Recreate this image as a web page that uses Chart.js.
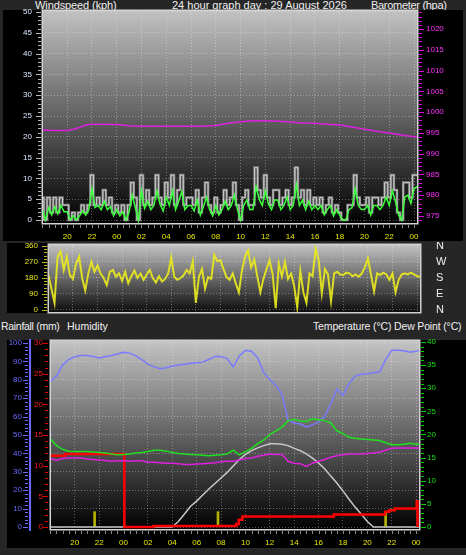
<!DOCTYPE html>
<html><head><meta charset="utf-8">
<script src="https://cdn.jsdelivr.net/npm/chart.js@4.4.1/dist/chart.umd.min.js"></script>
<style>
html,body{margin:0;padding:0;background:#262626;width:466px;height:555px;overflow:hidden;}
canvas{position:absolute;}
.t{position:absolute;color:#f0f0f0;font-family:"Liberation Sans",Arial,sans-serif;font-size:11px;line-height:11px;white-space:pre;}
</style></head><body>
<div class="t" style="left:35px;top:0px;letter-spacing:-0.1px">Windspeed (kph)</div>
<div class="t" style="left:172px;top:0px">24 hour graph day : 29 August 2026</div>
<div class="t" style="left:371px;top:0px;letter-spacing:-0.3px">Barometer (hpa)</div>
<div class="t" style="left:1px;top:320.5px;font-size:10.5px;letter-spacing:-0.3px">Rainfall (mm)</div>
<div class="t" style="left:67px;top:320.5px;font-size:10.5px">Humidity</div>
<div class="t" style="left:313px;top:320.5px;font-size:10.5px;letter-spacing:-0.15px">Temperature (°C) Dew Point (°C)</div>
<canvas id="c1" width="460" height="232" style="left:3px;top:9px;width:460px;height:232px"></canvas>
<canvas id="c2" width="459" height="74" style="left:7px;top:242px;width:459px;height:74px"></canvas>
<canvas id="c3" width="459" height="209" style="left:7px;top:339px;width:459px;height:209px"></canvas>
<script>
// ---------- axis ticks / labels ----------
const hourTicks = [20,22,24,26,28,30,32,34,36,38,40,42,44,46,48];
const hourLabels = ['20','22','00','02','04','06','08','10','12','14','16','18','20','22','00'];
const windTicks = [0,5,10,15,20,25,30,35,40,45,50];
const baroTicks = [975,980,985,990,995,1000,1005,1010,1015,1020];
const dirTicks = [0,90,180,270,360];
const compassLabels = ['N','E','S','W','N'];
const humTicks = [0,10,20,30,40,50,60,70,80,90,100];
const rainTicks = [0,5,10,15,20,25,30];
const tempTicks = [0,5,10,15,20,25,30,35,40];

// ---------- wind (15 minute samples from 18:00 previous day) ----------
const gust = [5.4,0,5.4,1.8, 5.4,1.8,5.4,3.6, 3.6,0,1.8,0, 1.8,3.6,1.8,3.6, 10.8,3.6,5.4,3.6, 7.2,3.6,5.4,1.8,
  3.6,1.8,3.6,0, 3.6,9,5.4,0, 10.8,3.6,7.2,3.6, 5.4,10.8,5.4,3.6, 9,5.4,10.8,3.6, 7.2,10.8,3.6,5.4,
  5.4,3.6,7.2,1.8, 5.4,9,3.6,1.8, 5.4,1.8,3.6,7.2, 3.6,5.4,9,3.6, 0,5.4,7.2,3.6, 3.6,12.6,7.2,5.4,
  10.8,5.4,3.6,7.2, 7.2,3.6,5.4,7.2, 3.6,5.4,12.6,5.4, 7.2,3.6,7.2,3.6, 5.4,3.6,5.4,1.8, 3.6,5.4,1.8,3.6,
  1.8,0,0,3.6, 3.6,10.8,5.4,3.6, 3.6,5.4,1.8,5.4, 5.4,3.6,5.4,9, 5.4,10.8,7.2,1.8, 0,9,9,5.4, 10.8,10.8];
const avgWind = [2.5,0,3.0,1.2, 3.2,1.5,3.5,2.0, 2.0,0,1.0,0, 1.0,2.2,1.2,2.5, 7.5,3.0,3.5,2.5, 4.5,2.5,3.2,1.0,
  2.5,1.0,2.0,0, 2.0,6.0,3.0,0, 7.0,2.8,4.5,2.5, 3.5,7.0,3.8,2.2, 5.5,3.5,7.0,2.5, 4.5,6.8,2.5,3.5,
  3.5,2.2,4.8,1.2, 3.2,5.5,2.5,1.0, 3.5,1.2,2.5,4.5, 2.5,3.5,6.0,2.5, 0,3.5,4.8,2.5, 2.5,8.0,5.0,3.5,
  7.0,3.8,2.5,4.8, 4.8,2.5,3.5,5.5, 2.5,3.5,8.5,3.5, 4.8,2.5,4.5,2.5, 3.5,2.5,3.5,1.2, 2.5,3.5,1.0,2.5,
  1.2,0,0,2.5, 3.0,7.5,3.5,2.5, 2.5,3.5,1.2,3.5, 3.5,2.5,3.5,5.5, 3.5,7.0,4.5,1.2, 0,5.5,6.0,4.0, 7.5,8.0];
const windDir = [200,120,40,300, 330,225,300,197, 175,260,300,180, 110,206,272,215, 250,205,180,140, 215,225,187,206,
  165,215,150,190, 222,180,205,170, 200,225,180,155, 190,160,175,206, 295,185,170,180, 195,225,206,275,
  40,187,230,120, 185,175,310,275, 280,230,185,170, 205,150,100,220, 300,335,240,285, 190,100,175,230,
  280,200,10,260, 190,270,175,205, 135,15,220,100, 40,206,190,345, 280,95,230,200, 50,206,215,200,
  197,210,206,190, 200,187,205,240, 290,200,105,206, 197,210,200,170, 205,100,170,200, 206,200,210,200, 190,187];
const windTimes = Array.from({length: gust.length}, (_, i) => 18 + i / 4);

// ---------- barometer ----------
const baroTimes = [18,19,20,20.5,21,21.5,22,23,24,25,26,27,28,29,30,31,32,33,34,35,36,37,38,39,40,41,42,43,44,45,46,47,48,48.25];
const baro = [995.7,995.6,995.6,995.9,996.3,996.9,997.1,997.1,997.0,996.7,996.6,996.6,996.6,996.6,996.6,996.6,996.8,997.3,997.7,997.9,997.9,997.8,997.6,997.4,997.3,997.1,996.9,996.4,995.9,995.4,995.0,994.5,994.1,994.0];

// ---------- temperature / dew point / humidity / solar (30 minute samples) ----------
const lowTimes = Array.from({length: 61}, (_, i) => 18 + i / 2).concat([48.25]);
const temp = [19.0,17.6,16.8,16.4,16.3,16.3,16.3,16.2,16.1,16.0,15.8,15.6,15.7,15.8,16.0,16.1,16.3,16.6,16.6,16.4,16.1,15.9,15.8,15.7,15.6,15.5,15.4,15.5,15.6,15.8,16.6,15.6,16.3,17.0,18.0,18.8,20.0,20.8,21.6,23.0,23.3,22.9,22.8,23.4,23.2,23.0,22.5,20.8,20.2,19.4,19.2,19.0,18.9,18.8,18.7,18.2,17.8,17.8,17.9,18.1,17.9,17.9];
const dew = [14.8,14.4,14.8,14.9,14.9,14.9,14.7,14.6,14.5,14.4,14.2,14.3,14.3,14.2,14.3,14.3,14.0,14.0,13.9,13.8,13.8,13.7,13.5,13.5,13.6,13.7,13.8,13.9,14.1,14.2,14.2,14.5,14.8,14.9,15.3,15.5,15.8,15.7,15.7,14.2,13.8,13.7,13.1,13.8,14.2,14.6,15.1,15.4,15.6,15.8,15.8,15.8,15.9,16.0,16.2,16.6,17.0,17.1,17.1,17.1,17.1,17.1];
const humidity = [79,82,88,91,92.5,93.2,93.2,92.7,91.8,92.5,93.2,94,95,94.5,93,91,88.5,87,86,86.5,87.5,88,88.5,89,89.3,89.6,91,92.7,92.7,91.5,87,93,96,95.5,92,84,80,77,72,58,56.5,56,54.4,55.5,57,60,67,75,71.5,78,82,83,83.3,83.8,84.2,91,96,96,95.8,95,95.5,96];
const solar = [0,0,0,0,0,0,0,0,0,0,0,0,0,0,0,0,0,0,0,0,
  0,1.2,2.8,4.5,5.6,6.9,8.2,9.4,10.6,11.8,13.2,14.6,15.7,16.5,17.1,17.6,18.0,18.0,17.9,17.6,17.0,16.5,15.8,14.9,13.8,12.6,11.0,9.5,7.8,6.0,4.3,2.8,1.2,0,
  0,0,0,0,0,0,0,0];

// ---------- rainfall ----------
const rainTimes = [18.0,19.2,24.07,26.45,33.25,33.45,33.75,41.25,45.45,45.8,46.25,48.05,48.12];
const rainTotal = [11.6,11.9,0,0.15,0.5,1.2,1.7,2.05,2.5,2.75,3.0,4.2,0];
const rateTimes = [21.63,31.75,45.5];
const rainRate = [2.5,2.5,2.5];

// ---------- helpers ----------
const xy = (t, v) => v.map((y, i) => ({x: t[i], y}));
const setTicks = arr => s => { s.ticks = arr.map(v => ({value: v})); };
const fix = size => s => {
  if (s.isHorizontal()) { s.height = size; s.paddingLeft = 0; s.paddingRight = 0; }
  else { s.width = size; s.paddingTop = 0; s.paddingBottom = 0; }
};
const FONT = {family: 'Liberation Sans', size: 8};
const GRID = 'rgba(255,255,255,0.33)';
const XMIN = 17.97, XMAX = 48.32;

const panel = {
  id: 'panel',
  beforeDraw(chart, args, o) {
    const ctx = chart.ctx, a = chart.chartArea;
    ctx.save();
    ctx.fillStyle = '#000';
    (o.black || []).forEach(r => ctx.fillRect(r[0], r[1], r[2], r[3]));
    const g = ctx.createLinearGradient(0, a.top, 0, a.bottom);
    g.addColorStop(0, o.top); g.addColorStop(1, o.bottom);
    ctx.fillStyle = g;
    ctx.fillRect(a.left, a.top, a.right - a.left, a.bottom - a.top);
    ctx.restore();
  },
  afterDraw(chart, args, o) {
    const ctx = chart.ctx, a = chart.chartArea;
    ctx.save();
    ctx.strokeStyle = o.border; ctx.lineWidth = 1.5;
    ctx.strokeRect(a.left + 0.25, a.top + 0.25, a.right - a.left - 0.5, a.bottom - a.top - 0.5);
    (o.minor || []).forEach(m => {
      const s = chart.scales[m.id];
      ctx.strokeStyle = m.color; ctx.lineWidth = 1;
      const n0 = Math.ceil(s.min / m.step), n1 = Math.floor(s.max / m.step);
      ctx.beginPath();
      for (let n = n0; n <= n1; n++) {
        const v = n * m.step;
        const major = m.major && Math.abs(v / m.major - Math.round(v / m.major)) < 1e-6;
        const len = major ? m.len2 : m.len;
        const p = Math.round(s.getPixelForValue(v)) + 0.5;
        if (m.side === 'bottom') { ctx.moveTo(p, m.at); ctx.lineTo(p, m.at + len); }
        else if (m.side === 'left') { ctx.moveTo(m.at - len, p); ctx.lineTo(m.at, p); }
        else { ctx.moveTo(m.at, p); ctx.lineTo(m.at + len, p); }
      }
      ctx.stroke();
    });
    ctx.restore();
  }
};

const base = {
  responsive: false, animation: false, events: [], devicePixelRatio: 1,
  elements: {point: {radius: 0}, line: {tension: 0}},
};
const xAxis = (h, showLabels) => ({
  type: 'linear', min: XMIN, max: XMAX, position: 'bottom', offset: false,
  afterBuildTicks: setTicks(hourTicks), afterFit: fix(h),
  ticks: {display: showLabels, color: '#e8e800', font: FONT, padding: 8, autoSkip: false, maxRotation: 0,
    callback: v => hourLabels[hourTicks.indexOf(v)]},
  grid: {color: GRID, drawTicks: false, offset: false},
  border: {display: false, dash: [1, 2]}
});

// ---------- chart 1 : wind + barometer ----------
new Chart(document.getElementById('c1'), {
  type: 'line',
  data: {datasets: [
    {label: 'Average', data: xy(windTimes, avgWind), yAxisID: 'yW', borderColor: '#3cff3c', borderWidth: 1.5, order: 1},
    {label: 'Barometer', data: xy(baroTimes, baro), yAxisID: 'yB', borderColor: '#e020e0', borderWidth: 1.5, order: 2},
    {label: 'Gust', data: xy(windTimes, gust), yAxisID: 'yW', borderColor: 'rgba(225,225,225,0.75)', borderWidth: 1, stepped: 'middle', order: 3},
    {label: 'Gust band', data: xy(windTimes, gust), yAxisID: 'yW', borderColor: 'rgba(170,170,170,0.7)', borderWidth: 2.5, stepped: 'middle', order: 4}
  ]},
  options: Object.assign({}, base, {
    layout: {autoPadding: false, padding: {top: 1, left: 0, right: 0, bottom: 0}},
    plugins: {legend: {display: false}, tooltip: {enabled: false},
      panel: {black: [[0, 1, 460, 231]], top: '#c2c2c2', bottom: '#000000', border: '#d4d4d4',
        minor: [
          {id: 'yW', side: 'left', at: 38, step: 1, major: 5, len: 3, len2: 5, color: '#b8b8b8'},
          {id: 'yB', side: 'right', at: 416, step: 1, major: 5, len: 3, len2: 5, color: '#e000e0'},
          {id: 'x', side: 'bottom', at: 216, step: 0.5, len: 3, color: '#8c8c8c'}
        ]}},
    scales: {
      x: xAxis(17, true),
      yW: {type: 'linear', position: 'left', min: -0.96, max: 50.48,
        afterBuildTicks: setTicks(windTicks), afterFit: fix(39),
        ticks: {color: '#dce6ff', font: FONT, padding: 10, autoSkip: false, callback: v => String(v)},
        grid: {color: GRID, drawTicks: false}, border: {display: false, dash: [1, 2]}},
      yB: {type: 'linear', position: 'right', min: 973.08, max: 1024.57,
        afterBuildTicks: setTicks(baroTicks), afterFit: fix(45),
        ticks: {color: '#ff30ff', font: FONT, padding: 8, autoSkip: false, callback: v => String(v)},
        grid: {drawOnChartArea: false, drawTicks: false}, border: {display: false}}
    }
  }),
  plugins: [panel]
});

// ---------- chart 2 : wind direction ----------
new Chart(document.getElementById('c2'), {
  type: 'line',
  data: {datasets: [
    {label: 'Direction', data: xy(windTimes, windDir), yAxisID: 'yD', borderColor: 'rgba(232,232,30,0.92)', borderWidth: 2}
  ]},
  options: Object.assign({}, base, {
    layout: {autoPadding: false, padding: {top: 2, left: 0, right: 0, bottom: 0}},
    plugins: {legend: {display: false}, tooltip: {enabled: false},
      panel: {black: [[0, 1, 41, 70]], top: '#c4c4c4', bottom: '#0a0a0a', border: '#d0d0d0',
        minor: [{id: 'yD', side: 'left', at: 40, step: 18, major: 90, len: 3, len2: 5, color: '#b8b820'}]}},
    scales: {
      x: xAxis(3, false),
      yD: {type: 'linear', position: 'left', min: -16.9, max: 371.2,
        afterBuildTicks: setTicks(dirTicks), afterFit: fix(41),
        ticks: {color: '#e8e820', font: FONT, padding: 10, autoSkip: false, callback: v => String(v)},
        grid: {color: GRID, drawTicks: false}, border: {display: false, dash: [1, 2]}},
      yC: {type: 'linear', position: 'right', min: -16.9, max: 371.2,
        afterBuildTicks: setTicks(dirTicks), afterFit: fix(45),
        ticks: {color: '#f0f0f0', font: {family: 'Liberation Sans', size: 11}, padding: 15, autoSkip: false,
          callback: v => compassLabels[dirTicks.indexOf(v)]},
        grid: {drawOnChartArea: false, drawTicks: false}, border: {display: false}}
    }
  }),
  plugins: [panel]
});

// ---------- chart 3 : temperature, dew point, humidity, rain ----------
new Chart(document.getElementById('c3'), {
  type: 'line',
  data: {datasets: [
    {label: 'Rain rate', type: 'bar', data: xy(rateTimes, rainRate), yAxisID: 'yR', backgroundColor: '#b4b400', barThickness: 2, borderWidth: 0, order: 6},
    {label: 'Solar', data: xy(lowTimes, solar), yAxisID: 'yT', borderColor: '#c8c8c8', borderWidth: 1.5, order: 5},
    {label: 'Rainfall', data: xy(rainTimes, rainTotal), yAxisID: 'yR', borderColor: '#ff0000', borderWidth: 2.5, stepped: 'before', order: 4},
    {label: 'Humidity', data: xy(lowTimes, humidity), yAxisID: 'yH', borderColor: '#7a7aff', borderWidth: 1.5, order: 3},
    {label: 'Dew Point', data: xy(lowTimes, dew), yAxisID: 'yT', borderColor: '#e020e0', borderWidth: 1.5, order: 2},
    {label: 'Temperature', data: xy(lowTimes, temp), yAxisID: 'yT', borderColor: '#20e020', borderWidth: 1.5, order: 1}
  ]},
  options: Object.assign({}, base, {
    layout: {autoPadding: false, padding: {top: 1, left: 0, right: 0, bottom: 0}},
    plugins: {legend: {display: false}, tooltip: {enabled: false},
      panel: {black: [[0, 1, 459, 208]], top: '#c4c4c4', bottom: '#000000', border: '#d4d4d4',
        minor: [
          {id: 'yH', side: 'left', at: 21, step: 2, major: 10, len: 3, len2: 5, color: '#6a6aff'},
          {id: 'yR', side: 'left', at: 41, step: 1, major: 5, len: 3, len2: 5, color: '#e00000'},
          {id: 'yT', side: 'right', at: 414, step: 1, major: 5, len: 3, len2: 5, color: '#00d000'},
          {id: 'x', side: 'bottom', at: 192, step: 0.5, len: 3, color: '#8c8c8c'}
        ]}},
    scales: {
      x: xAxis(18, true),
      yH: {type: 'linear', position: 'left', weight: 1, min: -1.63, max: 101.63,
        afterBuildTicks: setTicks(humTicks), afterFit: fix(23),
        ticks: {color: '#6a6aff', font: FONT, padding: 8, autoSkip: false, callback: v => String(v)},
        grid: {color: GRID, drawTicks: false}, border: {display: true, color: '#6a6aff', width: 2, dash: [1, 2]}},
      yR: {type: 'linear', position: 'left', weight: 0, min: -0.49, max: 30.49,
        afterBuildTicks: setTicks(rainTicks), afterFit: fix(20),
        ticks: {color: '#ff1a1a', font: FONT, padding: 7, autoSkip: false, callback: v => String(v)},
        grid: {drawOnChartArea: false, drawTicks: false}, border: {display: false}},
      yT: {type: 'linear', position: 'right', min: -0.65, max: 40.43,
        afterBuildTicks: setTicks(tempTicks), afterFit: fix(46),
        ticks: {color: '#14e014', font: FONT, padding: 7, autoSkip: false, callback: v => String(v)},
        grid: {drawOnChartArea: false, drawTicks: false}, border: {display: false}}
    }
  }),
  plugins: [panel]
});
</script>
</body></html>
